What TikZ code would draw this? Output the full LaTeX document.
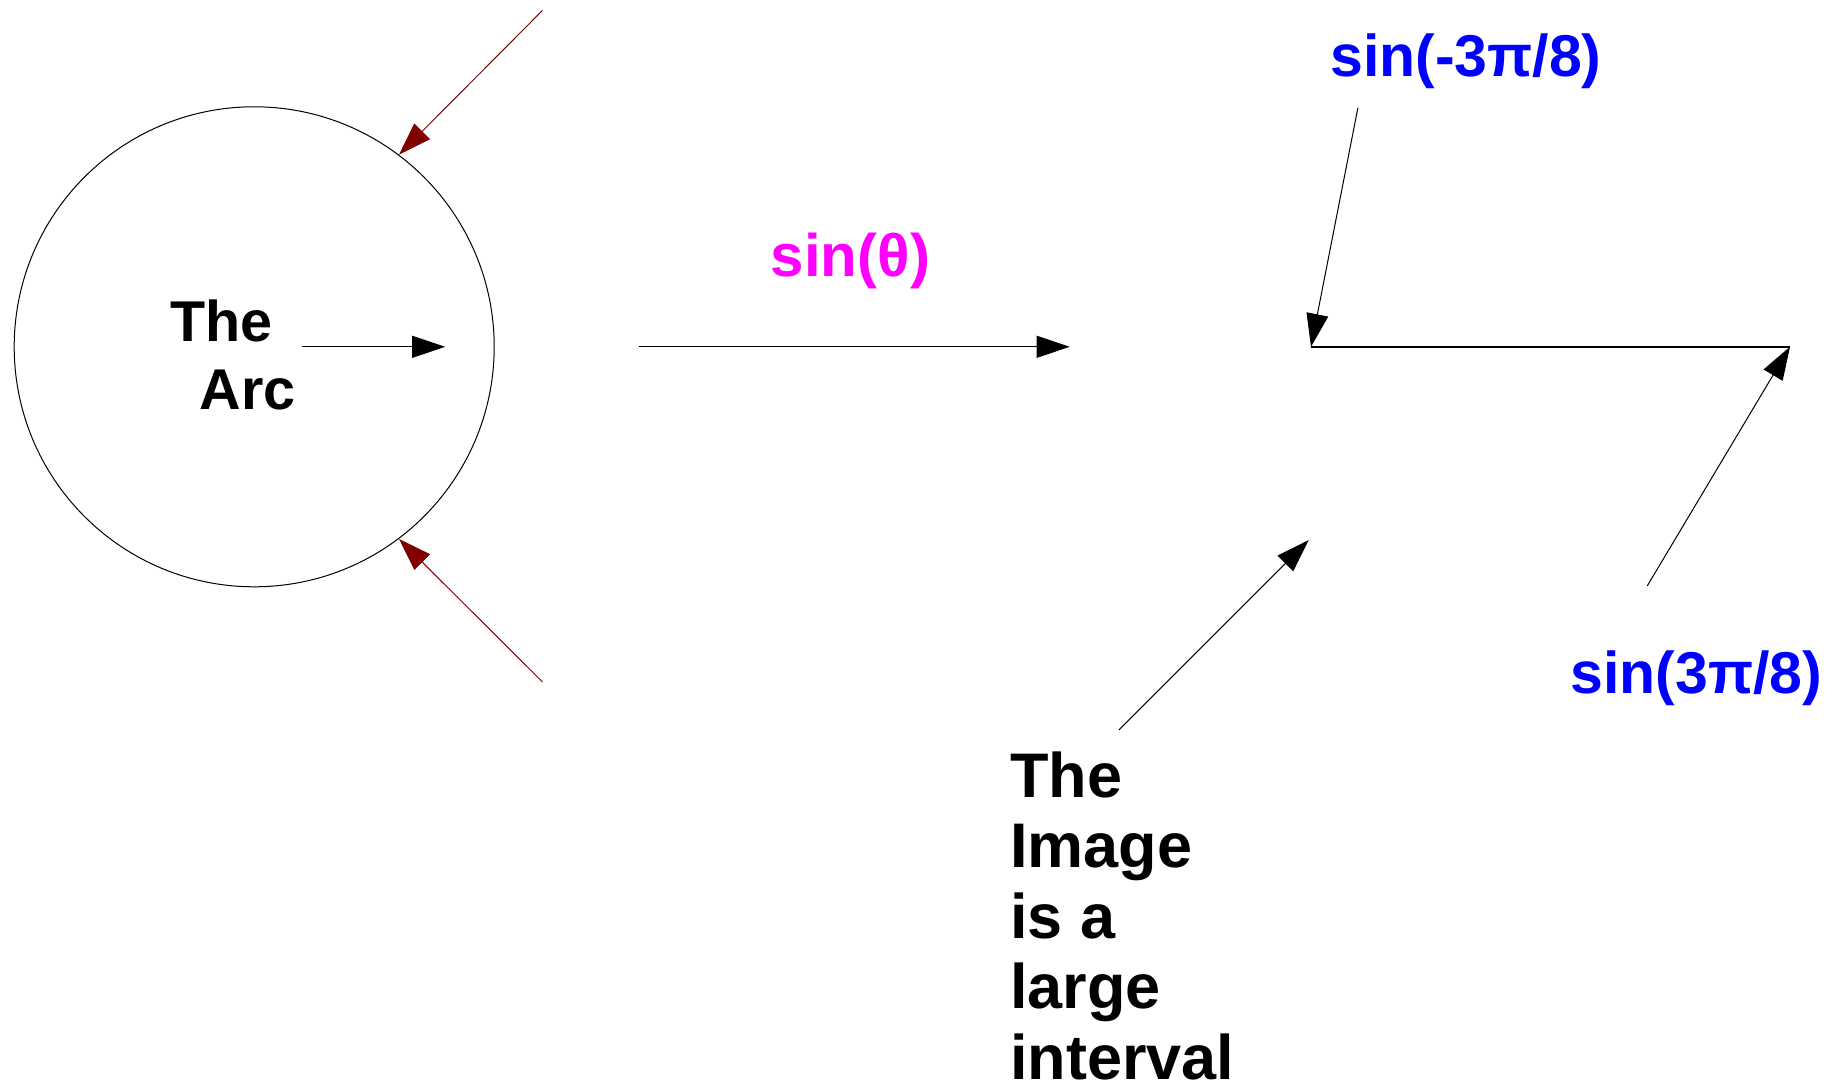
\documentclass[tikz,border=0pt]{standalone}
\usepackage{fontspec}
\setmainfont{Liberation Sans}
\usepackage{xcolor}
\usepackage{tikz}
\usetikzlibrary{arrows.meta,positioning}
\definecolor{arcred}{HTML}{800000}
\definecolor{labblue}{HTML}{0000FF}
\definecolor{labpink}{HTML}{FF00FF}

\begin{document}
\begin{tikzpicture}[x=0.5pt, y=-0.5pt,
  >={Triangle[length=16.5pt,width=11pt]},
  thin line/.style={line width=0.5pt, black},
  red line/.style={line width=0.5pt, arcred},
  lbl/.style={inner sep=0pt, anchor=base west, align=left},
  arclbl/.style={lbl, font=\fontsize{28.75}{34}\selectfont\bfseries},
  maplbl/.style={lbl, font=\fontsize{30}{36}\selectfont\bfseries, text=labpink},
  endlbl/.style={lbl, font=\fontsize{29.5}{36}\selectfont\bfseries, text=labblue},
  imglbl/.style={lbl, text depth=0pt, font=\fontsize{31.5}{35.2}\selectfont\bfseries}]

\useasboundingbox (0,0) rectangle (1837,1090);

% The arc on the circle
\node[draw, circle, line width=0.5pt, minimum size=240pt, inner sep=0pt] (arc) at (254.2,346.8) {};
\node[arclbl] (arctext) at (170,410) {The\\\hspace*{14.6pt}Arc};  % base = last line
\coordinate (InS) at (302.3,346.8);   % start of inner arrow
\coordinate (InE) at (445.2,346.8);   % tip of inner arrow
\draw[thin line, ->] (InS) -- (InE);

% The two ends of the arc
\coordinate (RedTop) at (542.4,10.5);
\coordinate (RedBot) at (542.4,681.9);
\draw[red line, ->] (RedTop) -- (arc.53);
\draw[red line, ->] (RedBot) -- (arc.-53);

% The map
\node[maplbl] (sinlbl) at (770.5,276.7) {sin(θ)};
\coordinate (MapS) at (638.5,346.8);
\coordinate (MapE) at (1069.7,346.8);
\draw[thin line, ->] (MapS) -- (MapE);

% The image interval
\coordinate (Lo) at (1311,346.8);     % left end
\coordinate (Hi) at (1790,346.8);     % right end
\draw[line width=0.8pt] (Lo) -- (Hi);
\node[endlbl] (lolbl) at (1329.8,77) {sin(-3π/8)};
\node[endlbl] (hilbl) at (1570,693.6) {sin(3π/8)};
\coordinate (LoFrom) at (1357.9,107.8);
\coordinate (HiFrom) at (1647.3,585.8);
\draw[thin line, ->] (LoFrom) -- (Lo);
\draw[thin line, ->] (HiFrom) -- (Hi);

% Comment on the image
\node[imglbl] (imgtext) at (1010,1079) {The\\Image\\is a\\large\\interval};
\coordinate (ImgFrom) at (1118.9,729.9);
\coordinate (ImgTo) at (1308.7,540.1);
\draw[thin line, ->] (ImgFrom) -- (ImgTo);

\end{tikzpicture}
\end{document}
